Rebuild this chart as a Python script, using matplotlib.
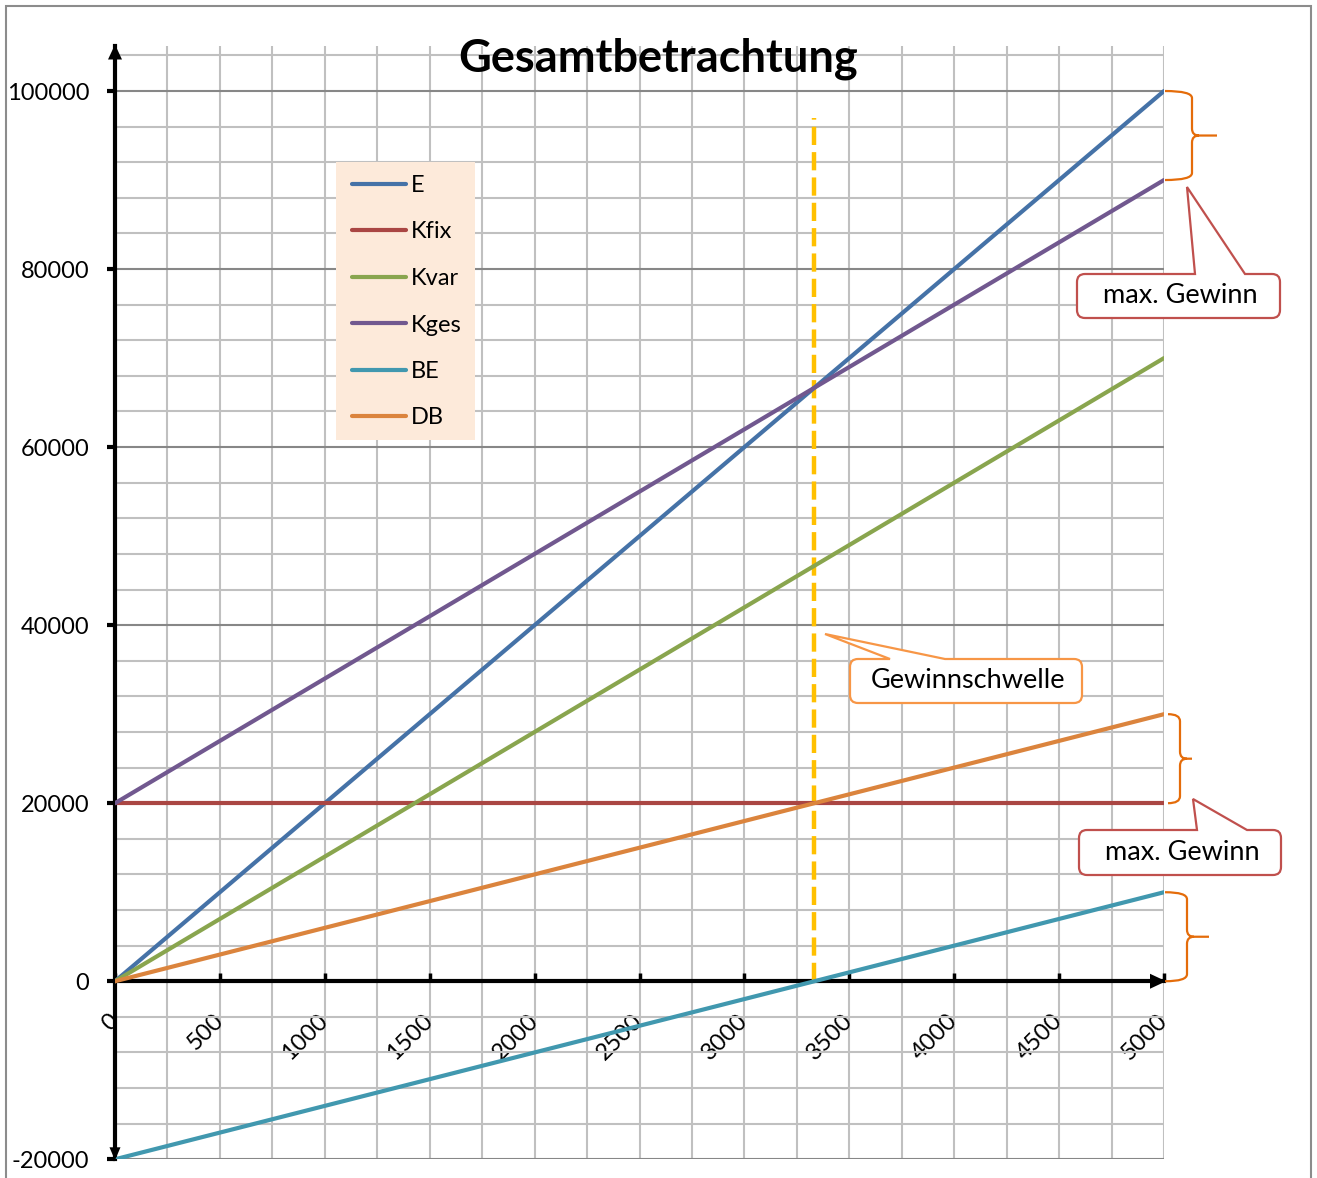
import matplotlib
matplotlib.use("Agg")
import matplotlib.pyplot as plt
from matplotlib.patches import Rectangle, PathPatch, Polygon
from matplotlib.path import Path
from matplotlib.ticker import MultipleLocator, FixedLocator

plt.rcParams['font.family'] = ['Lato', 'DejaVu Sans']

# Stückzahlen (x) und Werte der Reihen
menge = [0, 500, 1000, 1500, 2000, 2500, 3000, 3500, 4000, 4500, 5000]
E = [0, 10000, 20000, 30000, 40000, 50000, 60000, 70000, 80000, 90000, 100000]
Kfix = [20000, 20000, 20000, 20000, 20000, 20000, 20000, 20000, 20000, 20000, 20000]
Kvar = [0, 7000, 14000, 21000, 28000, 35000, 42000, 49000, 56000, 63000, 70000]
Kges = [20000, 27000, 34000, 41000, 48000, 55000, 62000, 69000, 76000, 83000, 90000]
BE = [-20000, -17000, -14000, -11000, -8000, -5000, -2000, 1000, 4000, 7000, 10000]
DB = [0, 3000, 6000, 9000, 12000, 15000, 18000, 21000, 24000, 27000, 30000]

reihen_namen = ['E', 'Kfix', 'Kvar', 'Kges', 'BE', 'DB']
reihen_werte = [E, Kfix, Kvar, Kges, BE, DB]
reihen_farben = ['#4572A7', '#AA4643', '#89A54E', '#71588F', '#4198AF', '#DB843D']

gewinnschwelle_x = 3333
gewinnschwelle_bis = 97000

x_ticks = [0, 500, 1000, 1500, 2000, 2500, 3000, 3500, 4000, 4500, 5000]
x_labels = ['0', '500', '1000', '1500', '2000', '2500', '3000', '3500', '4000', '4500', '5000']
y_ticks = [-20000, 0, 20000, 40000, 60000, 80000, 100000]
y_labels = ['-20000', '0', '20000', '40000', '60000', '80000', '100000']

W, H = 1317, 1178
FS = 17          # tick labels and legend
FS_NOTE = 19.5   # callout texts


def fx(x):
    return x / W


def fy(y):
    return 1 - y / H


fig = plt.figure(figsize=(W / 100, H / 100), dpi=100)
ax = fig.add_axes([fx(115), fy(1159.3), (1164 - 115) / W, (1159.3 - 46.5) / H])
ax.set_xlim(0, 5000)
ax.set_ylim(-20000, 105000)


def px(xd, yd):
    """data -> pixel position measured from the top-left corner"""
    dx, dy = ax.transData.transform((xd, yd))
    return dx, H - dy


# grid
ax.xaxis.set_major_locator(FixedLocator(x_ticks))
ax.xaxis.set_minor_locator(MultipleLocator(250))
ax.yaxis.set_major_locator(FixedLocator(y_ticks))
ax.yaxis.set_minor_locator(MultipleLocator(4000))
ax.set_axisbelow(True)
ax.grid(which='both', axis='x', color='#C0C0C0', lw=1.5)
ax.grid(which='minor', axis='y', color='#C0C0C0', lw=1.5)
ax.grid(which='major', axis='y', color='#878787', lw=1.5)

# axes lines through the origin
for s in ['top', 'right']:
    ax.spines[s].set_visible(False)
ax.spines['bottom'].set_position(('data', 0))
ax.spines['bottom'].set_linewidth(3)
ax.spines['left'].set_linewidth(3)
ax.spines['bottom'].set_zorder(2.6)
ax.spines['left'].set_zorder(2.6)

ax.set_xticklabels(x_labels)
ax.set_yticklabels(y_labels)
ax.tick_params(axis='y', which='major', direction='out', length=5.5, width=3,
               pad=13, labelsize=FS, colors='black')
ax.tick_params(axis='x', which='major', direction='in', length=6, width=2.5,
               pad=26, labelsize=FS, colors='black')
ax.tick_params(which='minor', length=0)
for lab in ax.get_xticklabels():
    lab.set_rotation(45)
    lab.set_ha('right')
    lab.set_va('center')
    lab.set_rotation_mode('anchor')


# arrow heads of the axes
def arrowhead(tip, direction, length, width):
    tx, ty = tip
    if direction == 'up':
        pts = [(tx, ty), (tx - width / 2, ty + length), (tx + width / 2, ty + length)]
    elif direction == 'down':
        pts = [(tx, ty), (tx - width / 2, ty - length), (tx + width / 2, ty - length)]
    else:
        pts = [(tx, ty), (tx - length, ty - width / 2), (tx - length, ty + width / 2)]
    poly = Polygon([(fx(a), fy(b)) for a, b in pts], closed=True, facecolor='black',
                   edgecolor='none', transform=fig.transFigure, zorder=4)
    fig.add_artist(poly)


x0p, ytop = px(0, 105000)
arrowhead((x0p, ytop - 2), 'up', 15, 14)
x0p, ybot = px(0, -20000)
arrowhead((x0p, ybot + 1), 'down', 13, 11)
xend, y0p = px(5000, 0)
arrowhead((xend + 2, y0p), 'right', 16, 15)

# break-even marker
ax.plot([gewinnschwelle_x, gewinnschwelle_x], [0, gewinnschwelle_bis], color='#FFC000',
        lw=3.2, dashes=(4.1, 1.6), zorder=2.7, clip_on=False)

# series
handles = []
for name, werte, farbe in zip(reihen_namen, reihen_werte, reihen_farben):
    ln, = ax.plot(menge, werte, color=farbe, lw=3, solid_capstyle='round',
                  label=name, zorder=3)
    handles.append(ln)

# legend
bg = Rectangle((fx(336), fy(440)), (475 - 336) / W, (440 - 162) / H,
               facecolor='#FDEADA', edgecolor='none', transform=fig.transFigure,
               zorder=2.2, clip_on=False)
ax.add_patch(bg)
leg = ax.legend(handles=handles, loc='upper left', bbox_to_anchor=(fx(352), fy(175)),
                bbox_transform=fig.transFigure, frameon=False, fontsize=FS,
                handlelength=2.29, handletextpad=0.21, labelspacing=1.08,
                borderpad=0, borderaxespad=0)
leg.set_zorder(5)

# title
fig.text(0.5, fy(71), 'Gesamtbetrachtung', ha='center', va='baseline',
         fontsize=32.5, fontweight='bold')


# callouts
def callout(x0, y0, x1, y1, base_a, base_b, tip, color, text, r=8):
    v = [(x0 + r, y0), (base_a, y0), tip, (base_b, y0), (x1 - r, y0),
         (x1, y0), (x1, y0 + r), (x1, y1 - r), (x1, y1), (x1 - r, y1),
         (x0 + r, y1), (x0, y1), (x0, y1 - r), (x0, y0 + r), (x0, y0),
         (x0 + r, y0), (x0 + r, y0)]
    c = [Path.MOVETO, Path.LINETO, Path.LINETO, Path.LINETO, Path.LINETO,
         Path.CURVE3, Path.CURVE3, Path.LINETO, Path.CURVE3, Path.CURVE3,
         Path.LINETO, Path.CURVE3, Path.CURVE3, Path.LINETO, Path.CURVE3,
         Path.CURVE3, Path.CLOSEPOLY]
    path = Path([(fx(a), fy(b)) for a, b in v], c)
    fig.add_artist(PathPatch(path, facecolor='white', edgecolor=color, lw=1.6,
                             transform=fig.transFigure, zorder=6))
    fig.text(fx((x0 + x1) / 2 + 2), fy((y0 + y1) / 2), text, ha='center', va='center',
             fontsize=FS_NOTE, zorder=7)


callout(850, 659, 1082, 703, 890, 945, (825, 634), '#F79646', 'Gewinnschwelle')
callout(1077, 274, 1280, 318, 1195, 1245, (1187, 187), '#C0504D', 'max. Gewinn')
callout(1079, 830, 1281, 875, 1197, 1247, (1193, 799), '#C0504D', 'max. Gewinn')


# braces at the right end of the chart
def brace(v_top, v_bot, x0, xv, xtip, r=7):
    _, yt = px(5000, v_top)
    _, yb = px(5000, v_bot)
    ym = (yt + yb) / 2
    v = [(x0, yt), (xv, yt), (xv, yt + r), (xv, ym - r), (xv, ym), (xv + r, ym),
         (xtip, ym),
         (xv + r, ym), (xv, ym), (xv, ym + r), (xv, yb - r), (xv, yb), (x0, yb)]
    c = [Path.MOVETO, Path.CURVE3, Path.CURVE3, Path.LINETO, Path.CURVE3, Path.CURVE3,
         Path.LINETO,
         Path.MOVETO, Path.CURVE3, Path.CURVE3, Path.LINETO, Path.CURVE3, Path.CURVE3]
    path = Path([(fx(a), fy(b)) for a, b in v], c)
    fig.add_artist(PathPatch(path, facecolor='none', edgecolor='#E46C0A', lw=1.6,
                             transform=fig.transFigure, zorder=6))


brace(E[-1], Kges[-1], 1165, 1192, 1217)
brace(DB[-1], Kfix[-1], 1168, 1180, 1192)
brace(BE[-1], 0, 1165, 1187, 1209)

# outer frame
frame = Rectangle((fx(6), fy(1200)), fx(1311) - fx(6), fy(6) - fy(1200), fill=False,
                  edgecolor='#8C8C8C', lw=1.5, transform=fig.transFigure, clip_on=False)
fig.add_artist(frame)

fig.savefig('out.png', dpi=100)
